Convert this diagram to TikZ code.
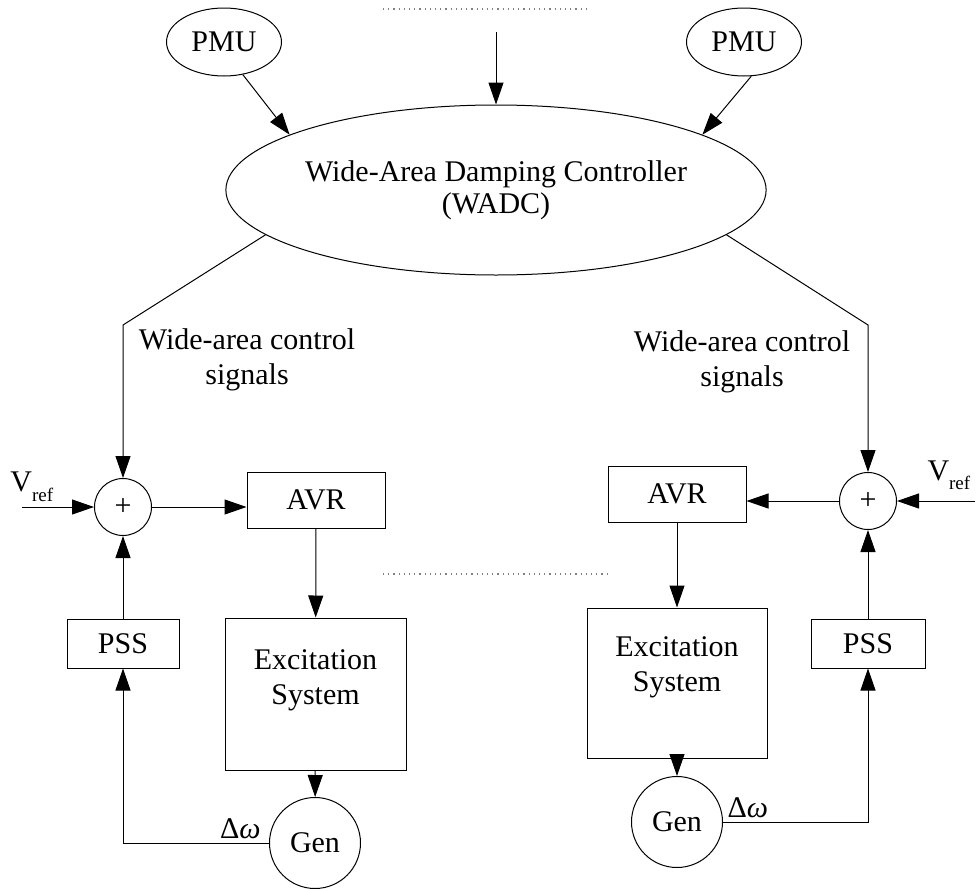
\documentclass[tikz,border=0pt]{standalone}
\usepackage{fontspec}
\setmainfont{Liberation Serif}
\usepackage{tikz}
\usetikzlibrary{calc, shapes.geometric, arrows.meta}

\newcommand{\lowsub}[2]{\raisebox{-#1}{\fontsize{9.5}{10}\selectfont #2}}

\tikzset{
	block/.style = {draw, rectangle, inner sep=0pt, align=center},
	oval/.style = {draw, ellipse, inner sep=0pt, align=center},
	summer/.style = {draw, circle, minimum size=28.5pt, inner sep=0pt},
	machine/.style = {draw, circle, minimum size=45.5pt, inner sep=0pt},
	signal/.style = {-{Triangle[length=11pt, width=7.5pt]}},
	guide/.style = {gray, dotted, line width=0.6pt}
}

\begin{document}
\begin{tikzpicture}[x=0.5pt, y=-0.5pt, line width=0.5pt, font=\fontsize{15}{17.5}\selectfont]
		\useasboundingbox (0,0) rectangle (976,889);
		
		% controller and measurements
		\node [oval, minimum width=270pt, minimum height=85pt, font=\fontsize{15}{16}\selectfont] (wadc) at (496,190) {Wide-Area Damping Controller\\(WADC)};
		\node [oval, minimum width=57.5pt, minimum height=34pt] (pmuL) at (224,42) {PMU};
		\node [oval, minimum width=57.5pt, minimum height=34pt] (pmuR) at (744,42) {PMU};
		\coordinate (feed) at (496,32);
		
		\draw [guide] (383,9) -- (587,9);
		\draw [guide] (383,574) -- (608,574);
		
		\begin{scope}[signal]
			\draw (feed) -- (wadc.north);
			\draw (pmuL.-60) -- (wadc.165);
			\draw (pmuR.-78) -- (wadc.15);
		\end{scope}
		
		% left unit
		\node [summer] (sumL) at (123,507) {+};
		\node [block, minimum width=69pt, minimum height=28pt] (avrL) at (316,500) {AVR};
		\node [block, minimum width=90.5pt, minimum height=76pt, label={[align=center, yshift=7pt] center:Excitation\\System}] (excL) at (315.5,694) {};
		\node [block, minimum width=56pt, minimum height=24.5pt] (pssL) at (123,643.5) {PSS};
		\node [machine] (genL) at (315,843) {Gen};
		\node [anchor=south west, inner sep=0pt] (vrefLtxt) at (10,502) {V\lowsub{5pt}{ref}};
		\node [anchor=south east, inner sep=2pt] (dwL) at ([xshift=-2pt]genL.west) {Δ\textit{ω}};
		\node [align=center] (sigL) at (247,360) {Wide-area control\\signals};
		\coordinate (vrefL) at (22,507);
		\coordinate (bendL) at (123,325);
		
		\begin{scope}[signal]
			\draw (wadc.191) -- (bendL) -- (sumL);
			\draw (vrefL) -- (sumL);
			\draw (sumL) -- (sumL -| avrL.west);
			\draw (avrL) -- (excL);
			\draw (excL) -- (genL);
			\draw (pssL) -- (sumL);
			\draw (genL) -- (genL -| pssL) -- (pssL);
		\end{scope}
		
		% right unit
		\node [summer] (sumR) at (868,501) {+};
		\node [block, minimum width=69pt, minimum height=28pt] (avrR) at (677,494) {AVR};
		\node [block, minimum width=90pt, minimum height=75pt, label={[align=center, yshift=8pt] center:Excitation\\System}] (excR) at (677,683) {};
		\node [block, minimum width=57pt, minimum height=24.5pt] (pssR) at (868,643.5) {PSS};
		\node [machine] (genR) at (677,822) {Gen};
		\node [anchor=south west, inner sep=0pt] (vrefRtxt) at (927,490) {V\lowsub{4.5pt}{ref}};
		\node [anchor=south west, inner sep=2pt] (dwR) at (genR.east) {Δ\textit{ω}};
		\node [align=center] (sigR) at (742,362) {Wide-area control\\signals};
		\coordinate (vrefR) at (975,501);
		\coordinate (bendR) at (868,325);
		
		\begin{scope}[signal]
			\draw (wadc.-11) -- (bendR) -- (sumR);
			\draw (vrefR) -- (sumR);
			\draw (sumR) -- (sumR -| avrR.east);
			\draw (avrR) -- (excR);
			\draw (excR) -- (genR);
			\draw (pssR) -- (sumR);
			\draw (genR) -- (genR -| pssR) -- (pssR);
		\end{scope}
	\end{tikzpicture}
\end{document}
